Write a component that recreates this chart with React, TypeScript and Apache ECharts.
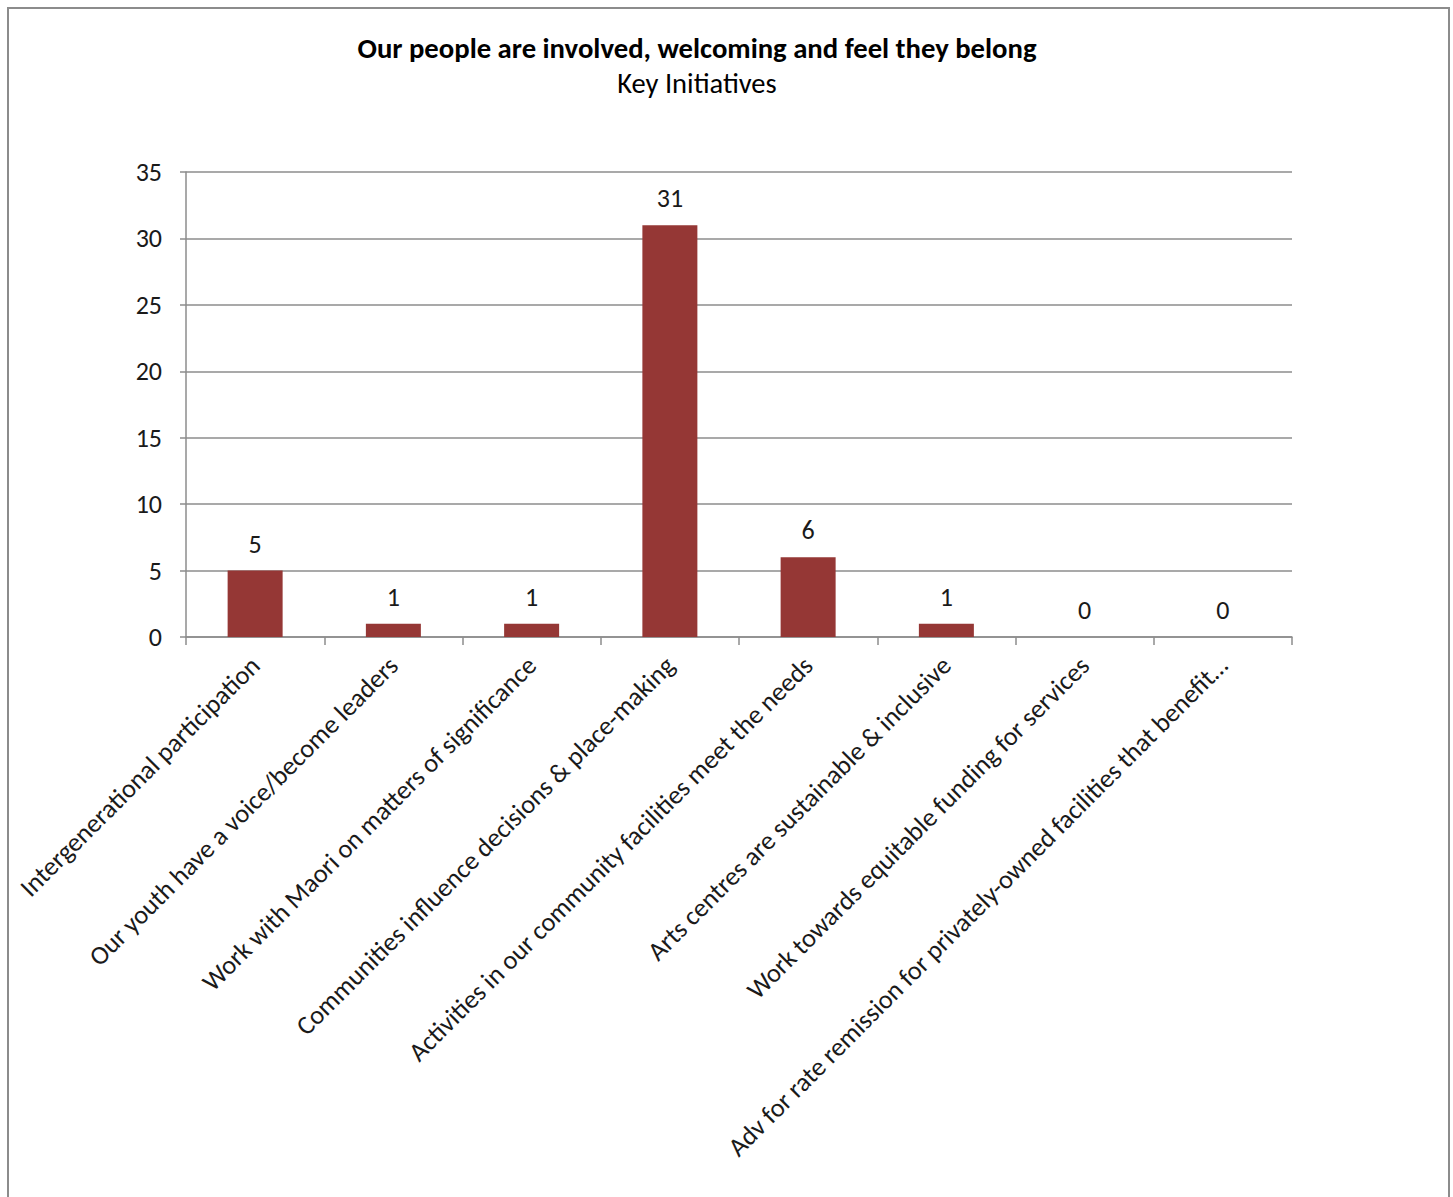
import React, { useEffect, useRef } from "react";
import * as echarts from "echarts";

const categories = [
  "Intergenerational participation",
  "Our youth have a voice/become leaders",
  "Work with Maori on matters of significance",
  "Communities influence decisions & place-making",
  "Activities in our community facilities meet the needs",
  "Arts centres are sustainable & inclusive",
  "Work towards equitable funding for services",
  "Adv for rate remission for privately-owned facilities that benefit…",
];
const values = [5, 1, 1, 31, 6, 1, 0, 0];
const titleText = "Our people are involved, welcoming and feel they belong";
const subtitleText = "Key Initiatives";

const FONT = "Carlito, 'Liberation Sans', sans-serif";

export default function App() {
  const ref = useRef<HTMLDivElement>(null);
  useEffect(() => {
    document.body.style.margin = "0";
    const chart = echarts.init(ref.current!, undefined, { renderer: "svg" });
    chart.setOption({
      animation: false,
      backgroundColor: "#ffffff",
      textStyle: { fontFamily: FONT },
      title: {
        text: titleText,
        subtext: subtitleText,
        left: 692,
        textAlign: "center",
        top: 29,
        itemGap: 6,
        textStyle: { fontFamily: FONT, fontSize: 28.7, fontWeight: "bold", color: "#000" },
        subtextStyle: { fontFamily: FONT, fontSize: 28.5, color: "#000" },
      },
      graphic: [
        {
          type: "rect",
          shape: { x: 8, y: 8, width: 1441, height: 1220 },
          style: { fill: "none", stroke: "#8c8c8c", lineWidth: 2 },
          silent: true,
        },
      ],
      grid: { left: 186, right: 161, top: 172, bottom: 560 },
      xAxis: {
        type: "category",
        data: categories,
        boundaryGap: true,
        axisLine: { show: true, lineStyle: { color: "#8c8c8c", width: 1.5 } },
        axisTick: { show: true, alignWithLabel: false, length: 8, lineStyle: { color: "#8c8c8c", width: 1.5 } },
        axisLabel: {
          interval: 0,
          rotate: 45,
          margin: 24,
          fontFamily: FONT,
          fontSize: 26.3,
          color: "#1a1a1a",
        },
      },
      yAxis: {
        type: "value",
        min: 0,
        max: 35,
        interval: 5,
        axisLine: { show: true, lineStyle: { color: "#8c8c8c", width: 1.5 } },
        axisTick: { show: true, length: 6, inside: false, lineStyle: { color: "#8c8c8c", width: 1.5 } },
        splitLine: { show: true, lineStyle: { color: "#8c8c8c", width: 1.5 } },
        axisLabel: { fontFamily: FONT, fontSize: 26, color: "#1a1a1a", margin: 24 },
      },
      series: [
        {
          type: "bar",
          data: values,
          barWidth: 55,
          itemStyle: { color: "#953735" },
          label: {
            show: true,
            position: "top",
            distance: 14,
            fontFamily: FONT,
            fontSize: 26,
            color: "#1a1a1a",
          },
        },
      ],
    });
    return () => chart.dispose();
  }, []);
  return <div ref={ref} style={{ position: "fixed", left: 0, top: 0, width: 1453, height: 1197 }} />;
}
